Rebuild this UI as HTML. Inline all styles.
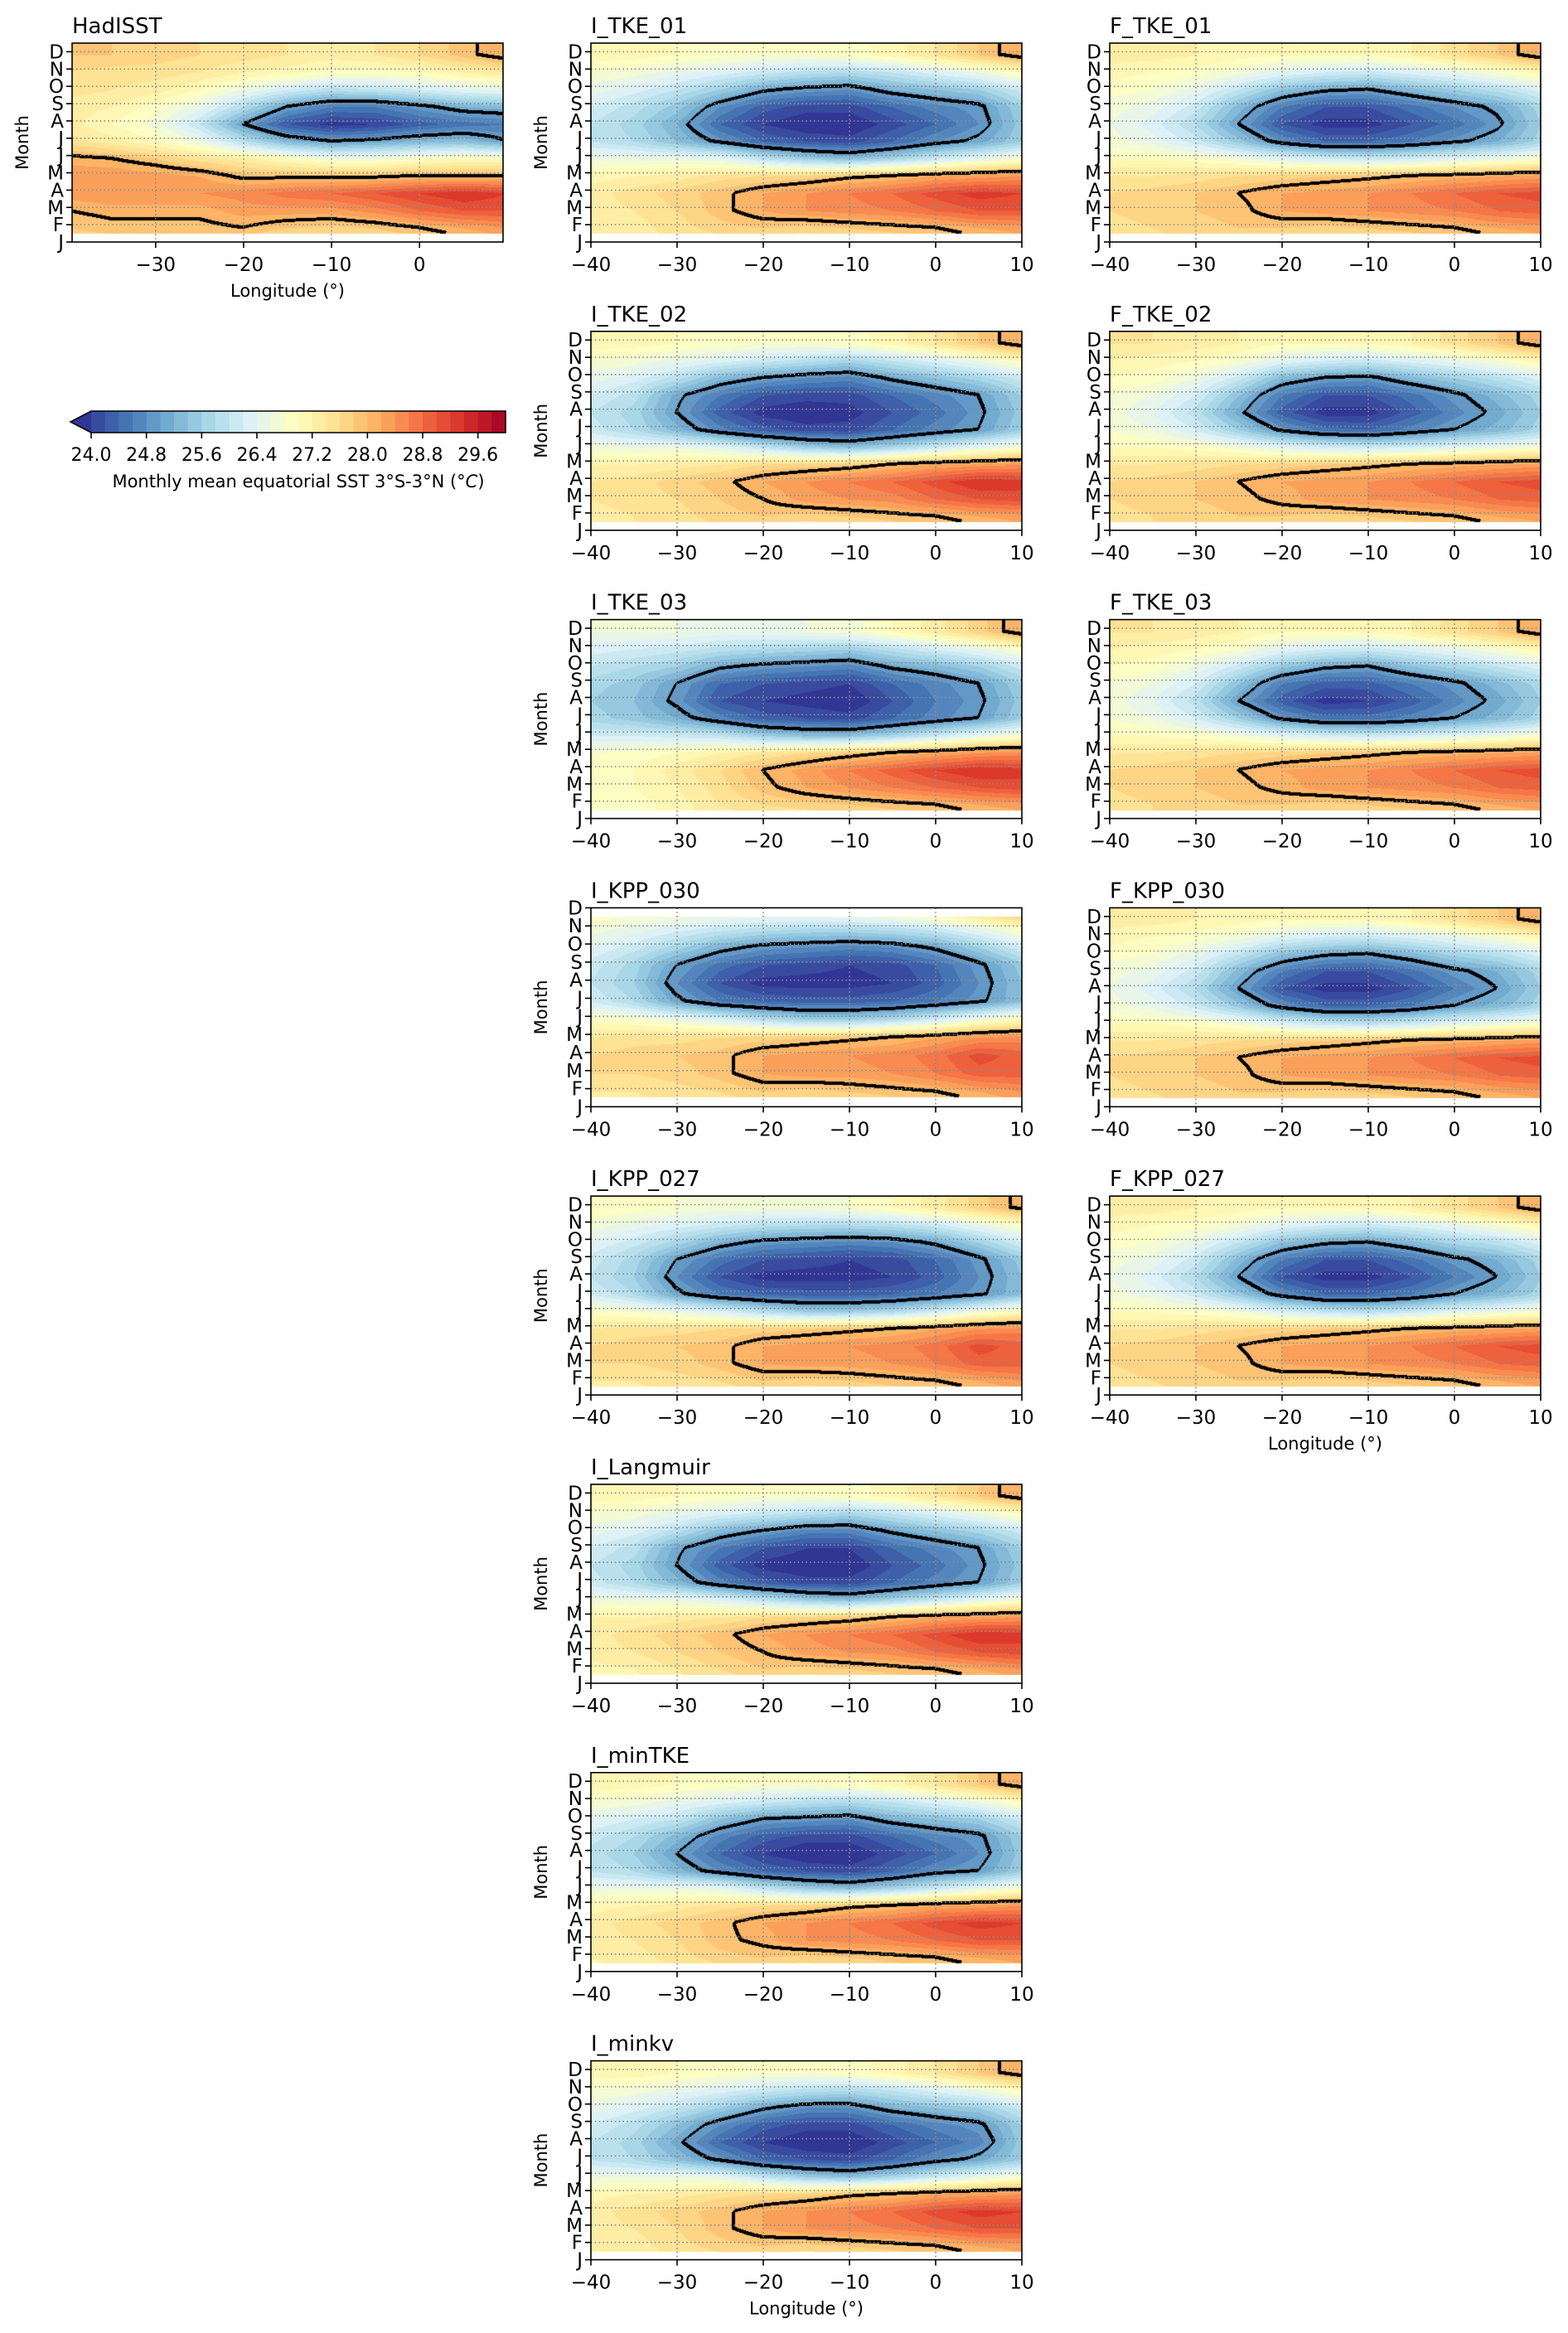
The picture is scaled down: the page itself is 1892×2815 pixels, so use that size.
<!DOCTYPE html>
<html><head><meta charset="utf-8">
<style>
html,body{margin:0;padding:0;background:#fff;}
#fig{position:relative;width:1892px;height:2815px;overflow:hidden;background:#fff;font-family:"DejaVu Sans","Liberation Sans",sans-serif;}
canvas{position:absolute;}
svg{position:absolute;left:0;top:0;}
</style></head>
<body>
<div id="fig">
<svg id="ov" width="1892" height="2815"></svg>
</div>
<script>
const months = ['J','F','M','A','M','J','J','A','S','O','N','D'];
const lons = [-40,-35,-30,-25,-20,-15,-10,-5,0,5,10];
const xTicks = [-40,-30,-20,-10,0,10];
const xTicksHad = [-30,-20,-10,0];
const cbTicks = [24.0,24.8,25.6,26.4,27.2,28.0,28.8,29.6];
const cbMin = 24.0, cbMax = 30.0, cbStep = 0.2;
const contourLevels = [25.0, 28.0];

const sstHadISST = [
[27.6,27.6,27.7,27.6,27.5,27.4,27.4,27.5,27.6,27.8,28.0],
[27.8,27.9,27.9,27.9,28.0,27.8,27.7,27.8,28.0,28.2,28.4],
[28.0,28.1,28.1,28.1,28.3,28.3,28.3,28.5,28.8,29.0,29.0],
[28.3,28.4,28.4,28.4,28.5,28.7,28.8,29.0,29.2,29.4,29.2],
[28.4,28.4,28.3,28.2,27.9,27.9,27.9,27.9,28.0,28.0,28.0],
[28.1,28.0,27.8,27.5,27.3,27.0,26.7,26.7,26.9,27.0,27.0],
[27.5,27.3,27.0,26.6,25.9,25.3,25.0,25.1,25.3,25.4,25.0],
[27.3,27.0,26.7,26.0,25.0,24.2,23.9,24.0,24.3,24.5,24.6],
[27.3,27.2,26.9,26.5,25.8,25.0,24.6,24.6,24.9,25.2,25.3],
[27.5,27.4,27.3,27.0,26.6,26.2,25.9,26.0,26.2,26.4,26.5],
[27.6,27.5,27.5,27.4,27.2,27.1,26.9,26.9,27.0,27.2,27.4],
[27.8,27.8,27.7,27.6,27.5,27.4,27.3,27.4,27.6,27.9,28.2]];

const sstITKE01 = [
[27.2,27.3,27.4,27.4,27.4,27.3,27.4,27.5,27.6,27.8,28.0],
[27.2,27.3,27.5,27.7,27.8,27.7,27.8,27.9,28.0,28.2,28.3],
[27.3,27.4,27.6,27.9,28.2,28.4,28.5,28.6,28.8,29.0,29.0],
[27.3,27.5,27.7,27.9,28.2,28.4,28.6,28.8,29.1,29.3,29.2],
[27.1,27.2,27.3,27.5,27.6,27.7,27.9,28.0,28.2,28.3,28.4],
[26.6,26.6,26.6,26.5,26.0,25.6,25.4,25.7,26.1,26.5,26.8],
[26.0,25.8,25.4,24.9,24.4,24.2,24.1,24.4,24.8,25.1,25.6],
[26.0,25.7,25.2,24.4,24.0,23.8,23.8,24.1,24.4,24.8,25.5],
[26.2,25.9,25.5,24.8,24.3,24.1,24.1,24.4,24.7,24.9,25.6],
[26.5,26.3,26.0,25.6,25.1,24.9,24.8,25.2,25.4,25.6,26.1],
[26.8,26.7,26.5,26.3,26.1,25.9,25.8,26.0,26.3,26.6,27.0],
[27.1,27.1,27.0,26.9,26.8,26.8,26.9,27.1,27.4,27.8,28.2]];

const sstFTKE01 = [
[27.4,27.5,27.6,27.6,27.5,27.4,27.4,27.5,27.6,27.8,28.0],
[27.5,27.6,27.7,27.8,27.8,27.7,27.8,27.9,28.0,28.2,28.3],
[27.6,27.7,27.8,27.9,28.2,28.3,28.4,28.5,28.6,28.8,28.9],
[27.6,27.7,27.8,28.0,28.2,28.3,28.4,28.6,28.8,29.0,29.1],
[27.4,27.4,27.5,27.6,27.7,27.8,27.9,28.0,28.1,28.2,28.3],
[27.0,27.0,26.9,26.7,26.4,26.2,26.1,26.2,26.4,26.6,26.8],
[26.7,26.5,26.1,25.5,24.8,24.4,24.4,24.6,24.9,25.2,25.7],
[26.6,26.3,25.8,25.0,24.2,23.9,23.9,24.2,24.5,24.9,25.6],
[26.7,26.5,26.1,25.3,24.6,24.2,24.2,24.5,24.8,25.1,25.7],
[26.9,26.8,26.5,26.0,25.4,25.1,25.0,25.3,25.6,25.9,26.3],
[27.1,27.0,26.9,26.7,26.4,26.2,26.1,26.3,26.5,26.8,27.1],
[27.3,27.3,27.2,27.1,27.0,27.0,27.0,27.2,27.5,27.8,28.2]];

const sstITKE02 = [
[27.3,27.4,27.5,27.5,27.4,27.3,27.4,27.5,27.6,27.8,28.0],
[27.3,27.4,27.5,27.7,27.8,27.7,27.8,27.9,28.0,28.2,28.3],
[27.4,27.5,27.6,27.8,28.0,28.3,28.4,28.5,28.8,29.0,29.1],
[27.4,27.5,27.7,27.9,28.2,28.4,28.6,28.8,29.1,29.4,29.3],
[27.2,27.2,27.3,27.4,27.6,27.7,27.8,28.0,28.2,28.3,28.4],
[26.7,26.6,26.6,26.4,26.0,25.6,25.4,25.7,26.1,26.5,26.8],
[26.1,25.8,25.3,24.7,24.3,24.1,24.1,24.4,24.7,25.0,25.6],
[26.0,25.7,25.0,24.3,23.9,23.8,23.9,24.2,24.5,24.9,25.5],
[26.2,25.9,25.1,24.6,24.2,24.1,24.1,24.4,24.7,25.0,25.6],
[26.5,26.3,25.9,25.3,25.0,24.8,24.7,25.1,25.4,25.7,26.1],
[26.8,26.7,26.5,26.3,26.1,25.9,25.7,26.0,26.3,26.6,27.0],
[27.1,27.1,27.0,26.9,26.8,26.8,26.9,27.1,27.4,27.8,28.2]];

const sstFTKE02 = [
[27.5,27.6,27.7,27.6,27.5,27.4,27.4,27.5,27.6,27.8,28.0],
[27.5,27.6,27.7,27.8,27.8,27.7,27.8,27.9,28.0,28.2,28.3],
[27.6,27.7,27.8,27.9,28.1,28.3,28.4,28.5,28.6,28.8,28.9],
[27.6,27.7,27.8,28.0,28.2,28.3,28.4,28.6,28.8,29.0,29.1],
[27.4,27.4,27.5,27.6,27.7,27.8,27.9,28.0,28.1,28.2,28.3],
[27.0,27.0,26.9,26.7,26.4,26.2,26.1,26.2,26.4,26.6,26.8],
[26.8,26.6,26.2,25.6,24.9,24.5,24.4,24.7,25.0,25.3,25.7],
[26.7,26.4,25.9,25.1,24.3,23.9,23.9,24.3,24.7,25.1,25.6],
[26.8,26.6,26.2,25.4,24.6,24.2,24.2,24.5,24.9,25.3,25.7],
[27.0,26.9,26.6,26.1,25.3,25.0,24.9,25.3,25.6,25.9,26.3],
[27.2,27.1,27.0,26.8,26.4,26.2,26.1,26.3,26.5,26.8,27.1],
[27.4,27.4,27.3,27.2,27.0,27.0,27.0,27.2,27.5,27.8,28.2]];

const sstITKE03 = [
[26.8,26.9,27.1,27.2,27.3,27.3,27.4,27.5,27.6,27.8,28.0],
[26.8,26.9,27.1,27.4,27.6,27.7,27.8,27.9,28.0,28.2,28.3],
[26.9,27.0,27.2,27.5,27.9,28.2,28.4,28.6,28.8,29.0,29.1],
[26.9,27.0,27.3,27.6,28.0,28.3,28.6,28.9,29.2,29.4,29.3],
[26.8,26.9,27.0,27.2,27.4,27.6,27.8,28.0,28.2,28.4,28.5],
[26.2,26.2,26.1,26.0,25.6,25.4,25.4,25.7,26.1,26.5,26.8],
[25.7,25.5,25.2,24.7,24.3,24.2,24.1,24.4,24.7,25.0,25.6],
[25.6,25.4,24.9,24.2,24.0,23.9,23.8,24.2,24.6,24.9,25.5],
[25.7,25.5,25.0,24.4,24.2,24.1,24.0,24.4,24.7,25.0,25.6],
[26.0,25.8,25.6,25.1,24.9,24.8,24.7,25.1,25.3,25.6,26.1],
[26.3,26.2,26.1,25.9,25.8,25.7,25.6,25.9,26.2,26.5,26.9],
[26.6,26.6,26.6,26.5,26.5,26.6,26.7,27.0,27.3,27.7,28.2]];

const sstFTKE03 = [
[27.5,27.6,27.7,27.6,27.5,27.4,27.4,27.5,27.6,27.8,28.0],
[27.5,27.6,27.7,27.8,27.8,27.7,27.8,27.9,28.0,28.2,28.3],
[27.6,27.7,27.8,27.9,28.1,28.3,28.4,28.5,28.6,28.8,28.9],
[27.6,27.7,27.8,28.0,28.2,28.3,28.4,28.6,28.8,29.0,29.1],
[27.4,27.4,27.5,27.6,27.7,27.8,27.9,28.0,28.1,28.2,28.3],
[27.0,27.0,26.9,26.7,26.4,26.2,26.1,26.2,26.4,26.6,26.8],
[26.8,26.6,26.2,25.6,24.9,24.5,24.5,24.7,25.0,25.3,25.7],
[26.7,26.4,25.9,25.0,24.3,23.9,24.0,24.3,24.7,25.1,25.6],
[26.8,26.6,26.2,25.4,24.6,24.3,24.3,24.6,24.9,25.3,25.7],
[27.0,26.9,26.6,26.1,25.5,25.1,25.0,25.4,25.7,26.0,26.3],
[27.2,27.1,27.0,26.8,26.4,26.2,26.1,26.3,26.5,26.8,27.1],
[27.4,27.4,27.3,27.2,27.0,27.0,27.0,27.2,27.5,27.8,28.2]];

const sstIKPP030 = [
[27.3,27.3,27.4,27.4,27.4,27.3,27.4,27.5,27.6,27.8,28.0],
[27.4,27.4,27.5,27.6,27.8,27.7,27.8,27.9,28.0,28.2,28.4],
[27.6,27.6,27.7,27.9,28.2,28.3,28.3,28.4,28.6,28.9,28.9],
[27.6,27.7,27.8,27.9,28.2,28.3,28.4,28.5,28.7,29.1,28.9],
[27.4,27.5,27.5,27.6,27.7,27.8,27.9,28.0,28.2,28.4,28.5],
[26.9,26.8,26.6,26.3,25.9,25.6,25.6,25.8,26.2,26.7,27.0],
[26.2,25.8,25.1,24.6,24.4,24.3,24.3,24.4,24.6,24.9,25.4],
[26.0,25.6,24.8,24.2,23.9,23.9,23.9,24.0,24.3,24.8,25.4],
[26.1,25.7,25.0,24.5,24.2,24.1,24.0,24.1,24.4,24.9,25.5],
[26.4,26.1,25.7,25.2,24.9,24.8,24.7,24.8,25.1,25.6,26.2],
[26.7,26.5,26.3,26.1,25.9,25.8,25.8,25.9,26.1,26.5,26.9],
[27.0,26.9,26.8,26.7,26.7,26.7,26.8,27.0,27.3,27.7,28.1]];

const sstFKPP030 = [
[27.4,27.5,27.6,27.6,27.5,27.4,27.4,27.5,27.6,27.8,28.0],
[27.5,27.6,27.7,27.8,27.8,27.7,27.8,27.9,28.0,28.2,28.3],
[27.6,27.7,27.8,27.9,28.2,28.3,28.4,28.5,28.6,28.8,28.9],
[27.6,27.7,27.8,28.0,28.2,28.3,28.4,28.6,28.8,29.0,29.1],
[27.4,27.4,27.5,27.6,27.7,27.8,27.9,28.0,28.1,28.2,28.3],
[27.0,27.0,26.9,26.7,26.3,26.0,25.9,26.1,26.4,26.6,26.8],
[26.7,26.5,26.1,25.5,24.8,24.4,24.4,24.6,25.0,25.3,25.7],
[26.6,26.3,25.8,25.0,24.2,23.9,23.9,24.2,24.6,25.0,25.6],
[26.7,26.5,26.1,25.3,24.6,24.2,24.2,24.5,24.9,25.2,25.7],
[26.9,26.8,26.5,26.0,25.4,25.1,25.0,25.3,25.7,25.9,26.3],
[27.1,27.0,26.9,26.7,26.4,26.2,26.1,26.3,26.5,26.8,27.1],
[27.3,27.3,27.2,27.1,27.0,27.0,27.0,27.2,27.5,27.8,28.2]];

const sstIKPP027 = [
[27.3,27.3,27.4,27.4,27.4,27.3,27.4,27.5,27.6,27.8,28.0],
[27.4,27.4,27.5,27.6,27.8,27.7,27.8,27.9,28.0,28.2,28.4],
[27.6,27.6,27.7,27.9,28.2,28.3,28.3,28.4,28.6,28.9,28.9],
[27.6,27.7,27.8,27.9,28.2,28.3,28.4,28.5,28.7,29.1,28.9],
[27.4,27.5,27.5,27.6,27.7,27.8,27.9,28.0,28.2,28.4,28.5],
[26.9,26.8,26.6,26.3,25.9,25.6,25.6,25.8,26.2,26.7,27.0],
[26.2,25.8,25.1,24.6,24.4,24.3,24.3,24.4,24.6,24.9,25.4],
[26.0,25.6,24.8,24.2,23.9,23.9,23.9,24.0,24.3,24.8,25.4],
[26.1,25.7,25.0,24.5,24.2,24.1,24.0,24.1,24.4,24.9,25.5],
[26.4,26.1,25.7,25.2,24.9,24.8,24.7,24.8,25.1,25.6,26.2],
[26.7,26.5,26.3,26.1,25.9,25.8,25.8,25.9,26.1,26.5,26.9],
[27.0,26.9,26.8,26.7,26.7,26.7,26.8,27.0,27.3,27.7,28.1]];

const sstFKPP027 = [
[27.4,27.5,27.6,27.6,27.5,27.4,27.4,27.5,27.6,27.8,28.0],
[27.5,27.6,27.7,27.8,27.8,27.7,27.8,27.9,28.0,28.2,28.3],
[27.6,27.7,27.8,27.9,28.2,28.3,28.4,28.5,28.6,28.8,28.9],
[27.6,27.7,27.8,28.0,28.2,28.3,28.4,28.6,28.8,29.0,29.1],
[27.4,27.4,27.5,27.6,27.7,27.8,27.9,28.0,28.1,28.2,28.3],
[27.0,27.0,26.9,26.7,26.3,26.0,25.9,26.1,26.4,26.6,26.8],
[26.7,26.5,26.1,25.5,24.8,24.4,24.4,24.6,25.0,25.3,25.7],
[26.6,26.3,25.8,25.0,24.2,23.9,23.9,24.2,24.6,25.0,25.6],
[26.7,26.5,26.1,25.3,24.6,24.2,24.2,24.5,24.9,25.2,25.7],
[26.9,26.8,26.5,26.0,25.4,25.1,25.0,25.3,25.7,25.9,26.3],
[27.1,27.0,26.9,26.7,26.4,26.2,26.1,26.3,26.5,26.8,27.1],
[27.3,27.3,27.2,27.1,27.0,27.0,27.0,27.2,27.5,27.8,28.2]];

const sstILangmuir = [
[27.0,27.1,27.3,27.4,27.4,27.3,27.4,27.5,27.6,27.8,28.0],
[27.1,27.2,27.4,27.6,27.8,27.7,27.8,27.9,28.0,28.2,28.4],
[27.3,27.4,27.6,27.8,28.0,28.3,28.4,28.5,28.8,29.0,29.1],
[27.3,27.5,27.7,27.9,28.2,28.4,28.6,28.8,29.1,29.4,29.3],
[27.2,27.2,27.3,27.4,27.6,27.7,27.8,28.0,28.2,28.3,28.4],
[26.7,26.6,26.6,26.4,26.0,25.6,25.4,25.7,26.1,26.5,26.8],
[26.1,25.8,25.3,24.7,24.3,24.1,24.1,24.4,24.7,25.0,25.6],
[26.0,25.7,25.0,24.3,23.9,23.8,23.8,24.2,24.5,24.9,25.5],
[26.2,25.9,25.1,24.6,24.2,24.0,24.0,24.4,24.7,25.0,25.6],
[26.5,26.3,25.9,25.3,25.0,24.7,24.7,25.1,25.4,25.7,26.1],
[26.8,26.7,26.5,26.3,26.1,25.9,25.7,26.0,26.3,26.6,27.0],
[27.1,27.1,27.0,26.9,26.8,26.8,26.9,27.1,27.4,27.8,28.2]];

const sstIminTKE = [
[27.1,27.2,27.3,27.4,27.4,27.3,27.4,27.5,27.6,27.8,28.0],
[27.2,27.3,27.5,27.7,27.8,27.7,27.8,27.9,28.0,28.2,28.3],
[27.3,27.4,27.6,27.9,28.1,28.4,28.5,28.6,28.8,29.0,29.0],
[27.3,27.5,27.7,27.9,28.2,28.4,28.6,28.8,29.1,29.3,29.2],
[27.1,27.2,27.3,27.5,27.6,27.7,27.9,28.0,28.2,28.3,28.4],
[26.6,26.6,26.6,26.5,26.0,25.6,25.4,25.7,26.1,26.5,26.8],
[26.0,25.8,25.3,24.8,24.4,24.2,24.1,24.4,24.8,25.0,25.6],
[25.9,25.6,25.0,24.4,24.0,23.8,23.8,24.1,24.4,24.8,25.5],
[26.1,25.8,25.3,24.7,24.3,24.1,24.1,24.4,24.7,24.9,25.6],
[26.4,26.2,26.0,25.4,25.0,24.9,24.8,25.2,25.4,25.6,26.1],
[26.8,26.7,26.5,26.3,26.1,25.9,25.8,26.0,26.3,26.6,27.0],
[27.1,27.1,27.0,26.9,26.8,26.8,26.9,27.1,27.4,27.8,28.2]];

const sstIminkv = [
[27.2,27.3,27.4,27.4,27.4,27.3,27.4,27.5,27.6,27.8,28.0],
[27.2,27.3,27.5,27.7,27.8,27.7,27.8,27.9,28.0,28.2,28.3],
[27.3,27.4,27.6,27.9,28.2,28.4,28.5,28.6,28.8,29.0,29.0],
[27.3,27.5,27.7,27.9,28.2,28.4,28.6,28.8,29.1,29.3,29.2],
[27.1,27.2,27.3,27.5,27.6,27.7,27.9,28.0,28.2,28.3,28.4],
[26.6,26.6,26.6,26.5,26.0,25.6,25.4,25.7,26.1,26.5,26.8],
[26.0,25.8,25.4,24.9,24.4,24.2,24.1,24.4,24.8,25.1,25.6],
[26.0,25.7,25.1,24.4,24.0,23.8,23.8,24.1,24.4,24.7,25.5],
[26.2,25.9,25.4,24.8,24.3,24.1,24.1,24.4,24.7,24.9,25.6],
[26.5,26.3,26.0,25.6,25.1,24.8,24.8,25.2,25.4,25.6,26.1],
[26.8,26.7,26.5,26.3,26.1,25.9,25.8,26.0,26.3,26.6,27.0],
[27.1,27.1,27.0,26.9,26.8,26.8,26.9,27.1,27.4,27.8,28.2]];

const cmapAnchors = ['#313695','#4575b4','#74add1','#abd9e9','#e0f3f8','#ffffbf','#fee090','#fdae61','#f46d43','#d73027','#a50026'];

const NS='http://www.w3.org/2000/svg';
const ov=document.getElementById('ov');
const fig=document.getElementById('fig');
function hex(h){return [parseInt(h.slice(1,3),16),parseInt(h.slice(3,5),16),parseInt(h.slice(5,7),16)];}
const anc=cmapAnchors.map(hex);
function cmap(t){t=Math.max(0,Math.min(1,t));const s=t*(anc.length-1);const i=Math.min(anc.length-2,Math.floor(s));const f=s-i;
 return [0,1,2].map(k=>Math.round(anc[i][k]+(anc[i+1][k]-anc[i][k])*f));}
const nBins=Math.round((cbMax-cbMin)/cbStep);
function binColor(v){ if(v<cbMin) return cmap(0); let k=Math.min(nBins-1,Math.floor((v-cbMin)/cbStep+1e-9)); return cmap((k+1)/(nBins+0.5)); }
function mk(tag,attrs,parent){const e=document.createElementNS(NS,tag);for(const k in attrs)e.setAttribute(k,attrs[k]);(parent||ov).appendChild(e);return e;}
function txt(s,attrs){const e=mk('text',attrs);e.textContent=s;return e;}
function fmt(v){return (v<0?'\u2212':'')+Math.abs(v);}

const rowOffset = 0.2;
function sample(grid,lon,y){
 let c=(lon-lons[0])/(lons[1]-lons[0]); let r=y+rowOffset;
 c=Math.max(0,Math.min(lons.length-1,c)); r=Math.max(0,Math.min(grid.length-1,r));
 const c0=Math.min(lons.length-2,Math.floor(c)), r0=Math.min(grid.length-2,Math.floor(r));
 const fc=c-c0, fr=r-r0;
 const a=grid[r0][c0],b=grid[r0][c0+1],d=grid[r0+1][c0],e=grid[r0+1][c0+1];
 return (a*(1-fc)+b*fc)*(1-fr)+(d*(1-fc)+e*fc)*fr;
}

const colLeft=[87,713,1339], W=520, H=240;
function rowTop(r){return 52+r*347.8;}
const panels=[
 {title:'HadISST',data:sstHadISST,c:0,r:0,xmin:-39.5,xmax:9.5,ticks:xTicksHad,ymax:11.5,dtop:11.5,xl:true,yl:true},
 {title:'I_TKE_01',data:sstITKE01,c:1,r:0,xmin:-40,xmax:10,ticks:xTicks,ymax:11.5,dtop:11.5,xl:false,yl:true},
 {title:'F_TKE_01',data:sstFTKE01,c:2,r:0,xmin:-40,xmax:10,ticks:xTicks,ymax:11.5,dtop:11.5,xl:false,yl:false},
 {title:'I_TKE_02',data:sstITKE02,c:1,r:1,xmin:-40,xmax:10,ticks:xTicks,ymax:11.5,dtop:11.5,xl:false,yl:true},
 {title:'F_TKE_02',data:sstFTKE02,c:2,r:1,xmin:-40,xmax:10,ticks:xTicks,ymax:11.5,dtop:11.5,xl:false,yl:false},
 {title:'I_TKE_03',data:sstITKE03,c:1,r:2,xmin:-40,xmax:10,ticks:xTicks,ymax:11.5,dtop:11.5,xl:false,yl:true},
 {title:'F_TKE_03',data:sstFTKE03,c:2,r:2,xmin:-40,xmax:10,ticks:xTicks,ymax:11.5,dtop:11.5,xl:false,yl:false},
 {title:'I_KPP_030',data:sstIKPP030,c:1,r:3,xmin:-40,xmax:10,ticks:xTicks,ymax:11,dtop:10.5,xl:false,yl:true},
 {title:'F_KPP_030',data:sstFKPP030,c:2,r:3,xmin:-40,xmax:10,ticks:xTicks,ymax:11.5,dtop:11.5,xl:false,yl:false},
 {title:'I_KPP_027',data:sstIKPP027,c:1,r:4,xmin:-40,xmax:10,ticks:xTicks,ymax:11.5,dtop:11.5,xl:false,yl:true},
 {title:'F_KPP_027',data:sstFKPP027,c:2,r:4,xmin:-40,xmax:10,ticks:xTicks,ymax:11.5,dtop:11.5,xl:true,yl:false},
 {title:'I_Langmuir',data:sstILangmuir,c:1,r:5,xmin:-40,xmax:10,ticks:xTicks,ymax:11.5,dtop:11.5,xl:false,yl:true},
 {title:'I_minTKE',data:sstIminTKE,c:1,r:6,xmin:-40,xmax:10,ticks:xTicks,ymax:11.5,dtop:11.5,xl:false,yl:true},
 {title:'I_minkv',data:sstIminkv,c:1,r:7,xmin:-40,xmax:10,ticks:xTicks,ymax:11.5,dtop:11.5,xl:true,yl:true}
];

panels.forEach(p=>{
 const L=colLeft[p.c], T=rowTop(p.r);
 const xs=v=>L+(v-p.xmin)/(p.xmax-p.xmin)*W;
 const ys=v=>T+H-(v/p.ymax)*H;
 const cv=document.createElement('canvas');
 cv.width=W; cv.height=H; cv.style.left=L+'px'; cv.style.top=T+'px';
 
 
 fig.insertBefore(cv,ov);
 const ctx=cv.getContext('2d'); const img=ctx.createImageData(W,H); const vals=new Float32Array(W*H);
 for(let py=0;py<H;py++){const y=p.ymax*(1-(py+0.5)/H);
  for(let px=0;px<W;px++){const lon=p.xmin+(px+0.5)/W*(p.xmax-p.xmin);
   const i=py*W+px;
   if(y<0.5||y>p.dtop){vals[i]=NaN;continue;}
   const v=sample(p.data,lon,y); vals[i]=v; const col=binColor(v);
   img.data[i*4]=col[0];img.data[i*4+1]=col[1];img.data[i*4+2]=col[2];img.data[i*4+3]=255;}}
 const offs=[[1,0],[0,1],[1,1],[1,-1],[2,0],[0,2],[2,1],[1,2],[2,-1],[-1,2],[3,0],[0,3]];
 for(let py=0;py<H;py++)for(let px=0;px<W;px++){const i=py*W+px;const v=vals[i];if(isNaN(v))continue;
  let hit=false;
  for(const t of contourLevels){for(const [dx,dy] of offs){const qx=px+dx,qy=py+dy;if(qx<0||qy<0||qx>=W||qy>=H)continue;const w=vals[qy*W+qx];if(isNaN(w))continue;
    if((v-t)*(w-t)<0){hit=true;break;}} if(hit)break;}
  if(hit){img.data[i*4]=0;img.data[i*4+1]=0;img.data[i*4+2]=0;}}
 ctx.putImageData(img,0,0);
 const g=mk('g',{});
 
 
 p.ticks.forEach(t=>{ if(t>p.xmin&&t<p.xmax) mk('line',{x1:xs(t),x2:xs(t),y1:T,y2:T+H,stroke:'#8a8a8a','stroke-width':1.6,'stroke-dasharray':'1.6,3.2'},g);});
 for(let m=1;m<12;m++){ if(m<p.ymax) mk('line',{x1:L,x2:L+W,y1:ys(m),y2:ys(m),stroke:'#8a8a8a','stroke-width':1.6,'stroke-dasharray':'1.6,3.2'},g);}
 const fr=mk('rect',{x:L,y:T,width:W,height:H,fill:'none',stroke:'#000','stroke-width':1.6});
 
 
 months.forEach((m,i)=>{ if(i>p.ymax+0.01) return; const y=ys(i);
  mk('line',{x1:L-7,x2:L,y1:y,y2:y,stroke:'#000','stroke-width':1.6});
  const e=txt(m,{x:L-10,y:y+8,'font-size':23,'text-anchor':'end',fill:'#000'});
  
  
 });
 p.ticks.forEach(t=>{const x=xs(t);
  mk('line',{x1:x,x2:x,y1:T+H,y2:T+H+7,stroke:'#000','stroke-width':1.6});
  const e=txt(fmt(t),{x:x,y:T+H+35,'font-size':23,'text-anchor':'middle',fill:'#000'});
  
  
 });
 const ti=txt(p.title,{x:L,y:T-12,'font-size':26,fill:'#000'});
 
 
 if(p.yl){const cx=L-60, cy=T+H/2;
  const e=txt('Month',{x:cx,y:cy,'font-size':21,'text-anchor':'middle',transform:`rotate(-90 ${cx} ${cy})`,dy:7,fill:'#000'});
  
  }
 if(p.xl){const e=txt('Longitude (\u00b0)',{x:L+W/2,y:T+H+66,'font-size':21,'text-anchor':'middle',fill:'#000'});
  
  }
});

const cbL=110, cbR=610, cbT=496, cbB=522;
const cbx=v=>cbL+(v-cbMin)/(cbMax-cbMin)*(cbR-cbL);
const cbg=mk('g',{});


for(let k=0;k<nBins;k++){const c=binColor(cbMin+(k+0.5)*cbStep);
 mk('rect',{x:cbx(cbMin+k*cbStep),y:cbT,width:(cbR-cbL)/nBins+0.5,height:cbB-cbT,fill:`rgb(${c})`},cbg);}
const under=cmap(0);
mk('polygon',{points:`${cbL},${cbT} ${cbL},${cbB} 85,${(cbT+cbB)/2}`,fill:`rgb(${under})`},cbg);
mk('polygon',{points:`${cbL},${cbT} ${cbR},${cbT} ${cbR},${cbB} ${cbL},${cbB} 85,${(cbT+cbB)/2}`,fill:'none',stroke:'#000','stroke-width':1.6},cbg);
cbTicks.forEach(t=>{const x=cbx(t);
 mk('line',{x1:x,x2:x,y1:cbB,y2:cbB+7,stroke:'#000','stroke-width':1.6});
 const e=txt(t.toFixed(1),{x:x,y:556,'font-size':22,'text-anchor':'middle',fill:'#000'});
 
 
});
const cbl=mk('text',{x:360,y:588,'font-size':21,'text-anchor':'middle',fill:'#000'});
cbl.innerHTML='Monthly mean equatorial SST 3\u00b0S-3\u00b0N (\u00b0<tspan font-style="italic">C</tspan>)';


</script>
</body></html>
